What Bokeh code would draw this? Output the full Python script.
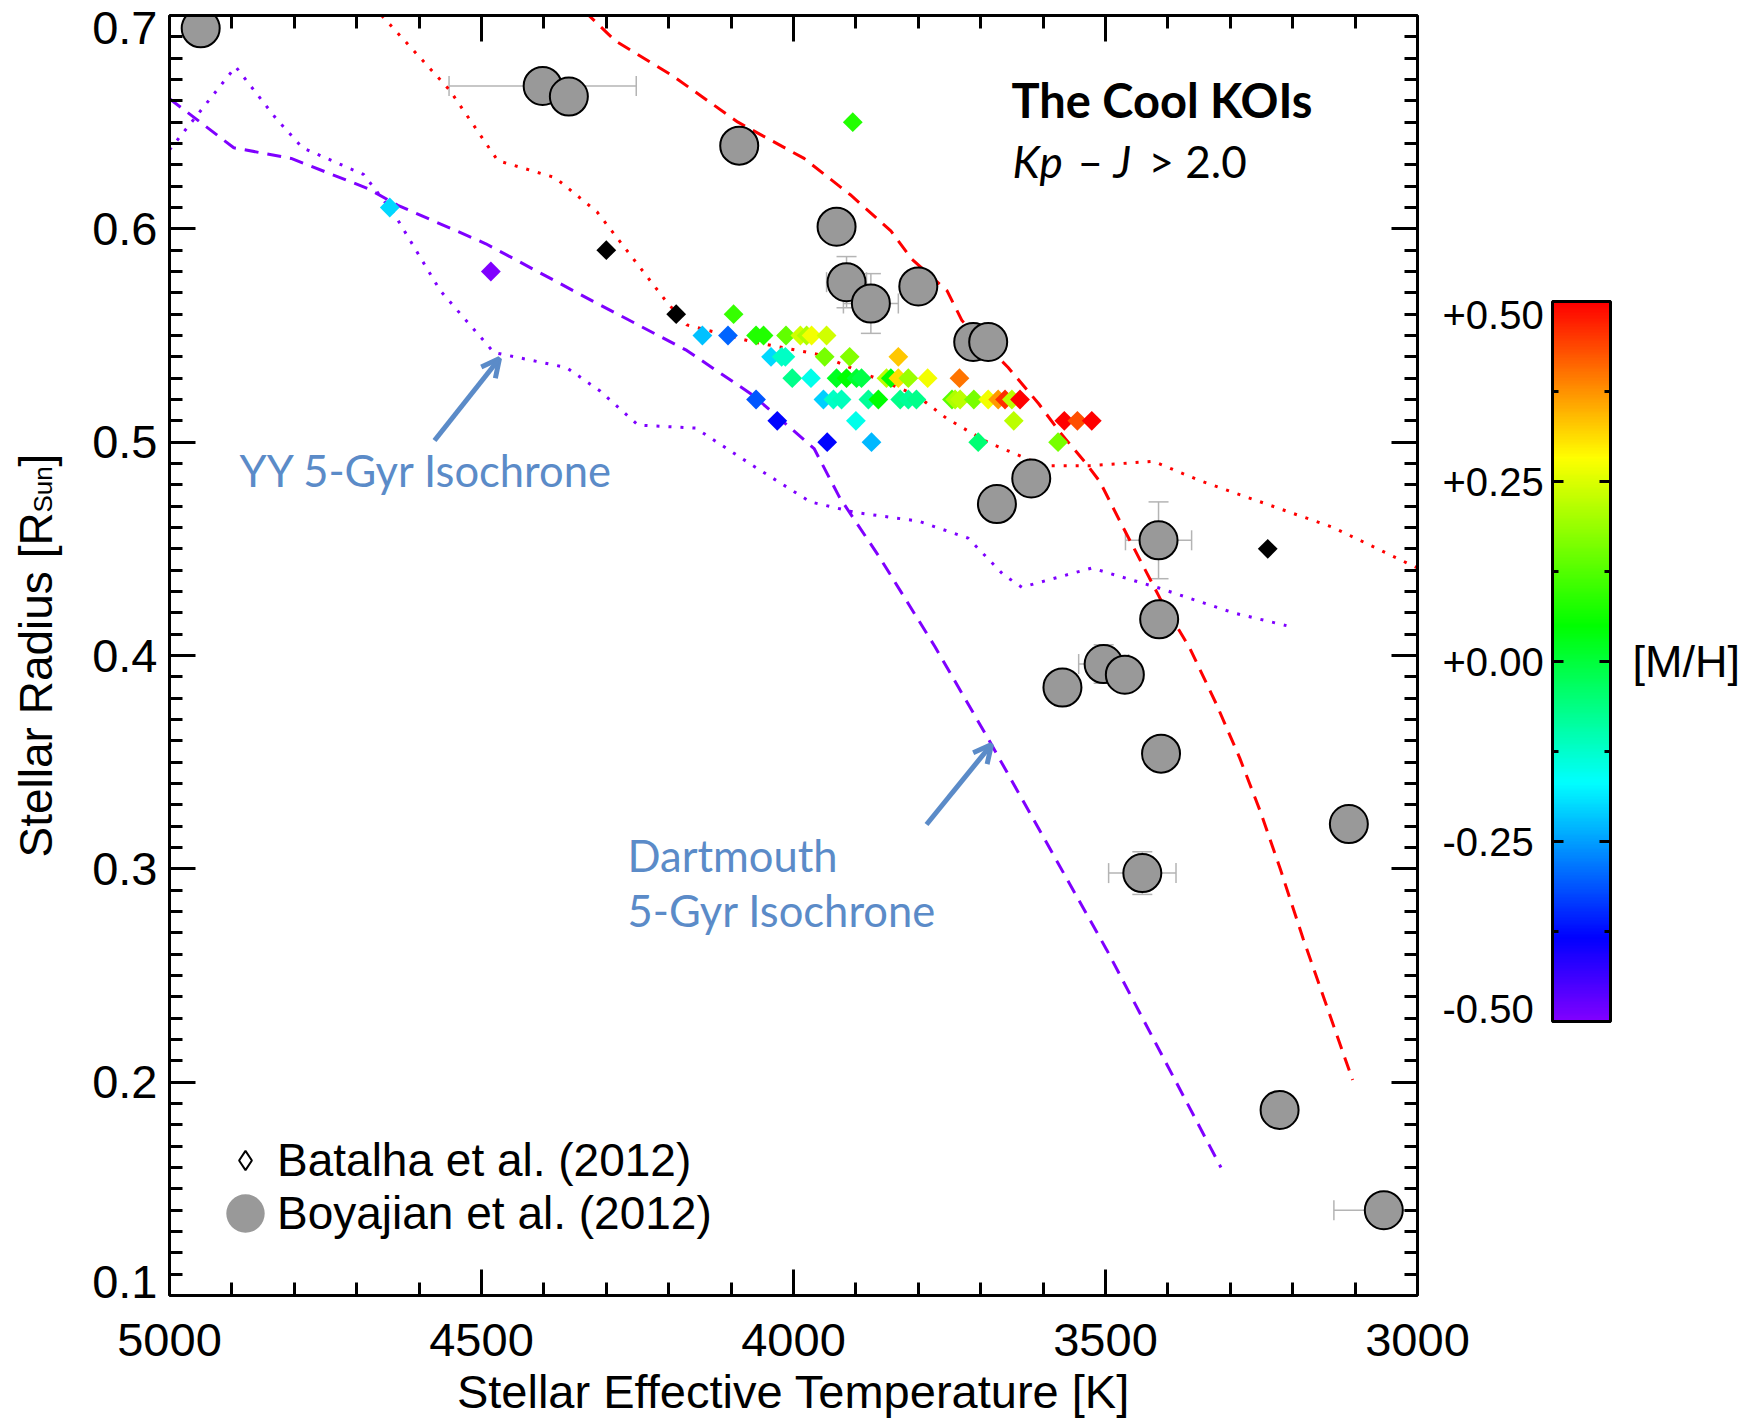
import numpy as np
from bokeh.plotting import figure
from bokeh.layouts import row
from bokeh.models import (Range1d, LinearColorMapper, LinearAxis, SingleIntervalTicker, FixedTicker,
                          CustomJSTickFormatter, Label, Arrow, OpenHead, Whisker, TeeHead,
                          ColumnDataSource, Legend, LegendItem)
from bokeh.embed import file_html
from bokeh.resources import INLINE

nan = float("nan")

# ---------------- data ----------------
# Batalha et al. (2012) cool KOIs: Teff [K], radius [Rsun], [M/H] (nan = no [M/H], drawn black)
bat_teff = [4188, 4096,
            4146, 4105, 4060, 4048, 4012, 3989, 3979, 3971, 3947,
            4036, 4019, 4013, 3950, 3910, 3832,
            4002, 3972, 3931, 3915, 3899, 3891, 3851, 3844, 3832, 3816, 3785, 3734,
            4060, 3952, 3936, 3923, 3880, 3864, 3829, 3816, 3803, 3746, 3741, 3733, 3711, 3688, 3672, 3661, 3650, 3637,
            4026, 3900, 3647, 3566, 3545, 3522,
            3946, 3875, 3704, 3576,
            3905, 4300, 4647, 4485, 3240]
bat_rad = [0.56, 0.56,
           0.55, 0.55, 0.55, 0.55, 0.55, 0.55, 0.55, 0.55, 0.55,
           0.54, 0.54, 0.54, 0.54, 0.54, 0.54,
           0.53, 0.53, 0.53, 0.53, 0.53, 0.53, 0.53, 0.53, 0.53, 0.53, 0.53, 0.53,
           0.52, 0.52, 0.52, 0.52, 0.52, 0.52, 0.52, 0.52, 0.52, 0.52, 0.52, 0.52, 0.52, 0.52, 0.52, 0.52, 0.52, 0.52,
           0.51, 0.51, 0.51, 0.51, 0.51, 0.51,
           0.50, 0.50, 0.50, 0.50,
           0.65, 0.59, 0.61, 0.58, 0.45]
bat_mh = [nan, 0.10,
          -0.22, -0.30, 0.08, 0.08, 0.14, 0.24, 0.21, 0.27, 0.24,
          -0.20, -0.12, -0.12, 0.16, 0.17, 0.33,
          -0.07, -0.15, 0.02, 0.05, 0.01, -0.01, 0.22, 0.05, 0.31, 0.19, 0.27, 0.40,
          -0.31, -0.21, -0.12, -0.11, -0.08, 0.05, -0.07, -0.08, -0.07, 0.13, 0.21, 0.22, 0.16, 0.27, 0.37, 0.46, 0.22, 0.50,
          -0.38, -0.15, 0.22, 0.50, 0.43, 0.50,
          -0.38, -0.23, -0.05, 0.16,
          0.08, nan, -0.20, -0.50, nan]

# Boyajian et al. (2012) interferometric stars
boy_teff = [4950, 4402, 4360, 4087, 3931, 3915, 3876, 3800, 3712, 3688, 3674,
            3619, 3415, 3414, 3569, 3503, 3469, 3411, 3110, 3441, 3221, 3054]
boy_rad = [0.694, 0.667, 0.662, 0.639, 0.601, 0.575, 0.565, 0.573, 0.547, 0.547, 0.471,
           0.483, 0.454, 0.417, 0.385, 0.396, 0.391, 0.354, 0.321, 0.298, 0.187, 0.140]
boy_teff_err = [0, 150, 0, 0, 0, 32, 44, 0, 0, 0, 0,
                0, 53, 0, 0, 40, 0, 0, 0, 54, 0, 80]
boy_rad_err = [0, 0, 0, 0, 0, 0.012, 0.014, 0, 0, 0, 0,
               0, 0.018, 0, 0, 0.009, 0, 0, 0, 0.010, 0, 0]

# Dartmouth 5-Gyr isochrone, [M/H] = +0.5 (red dashed)
dart_hi_teff = [4335, 4285, 4195, 4089, 3983, 3909, 3844, 3811, 3754, 3730, 3656, 3607,
                3574, 3531, 3509, 3477, 3413, 3365, 3322, 3285, 3252, 3220, 3183, 3104]
dart_hi_rad = [0.702, 0.688, 0.672, 0.650, 0.633, 0.616, 0.599, 0.586, 0.571, 0.557, 0.535, 0.518,
               0.505, 0.490, 0.4815, 0.463, 0.427, 0.4035, 0.377, 0.352, 0.327, 0.300, 0.267, 0.201]
# YY 5-Gyr isochrone, [M/H] = +0.5 (red dotted)
yy_hi_teff = [4660, 4551, 4474, 4382, 4315, 4204, 4171, 4065, 3958, 3885, 3803, 3754,
              3689, 3600, 3525, 3423, 3349, 3242, 3135, 3000]
yy_hi_rad = [0.700, 0.665, 0.632, 0.624, 0.608, 0.566, 0.555, 0.547, 0.541, 0.532, 0.522, 0.511,
             0.500, 0.489, 0.489, 0.491, 0.482, 0.471, 0.460, 0.441]
# Dartmouth 5-Gyr isochrone, [M/H] = -0.5 (purple dashed)
dart_lo_teff = [5000, 4897, 4805, 4683, 4634, 4493, 4321, 4171, 4065, 3967, 3926, 3862,
                3773, 3690, 3616, 3498, 3367, 3315]
dart_lo_rad = [0.661, 0.638, 0.633, 0.619, 0.611, 0.593, 0.566, 0.543, 0.522, 0.497, 0.474, 0.446,
               0.404, 0.362, 0.3235, 0.262, 0.189, 0.160]
# YY 5-Gyr isochrone, [M/H] = -0.5 (purple dotted)
yy_lo_teff = [5000, 4894, 4830, 4787, 4689, 4640, 4566, 4480, 4364, 4310, 4249, 4157,
              4065, 3973, 3900, 3800, 3720, 3664, 3634, 3522, 3413, 3295, 3210]
yy_lo_rad = [0.637, 0.676, 0.652, 0.638, 0.6255, 0.607, 0.571, 0.542, 0.535, 0.524, 0.508, 0.5066,
             0.489, 0.472, 0.467, 0.463, 0.455, 0.438, 0.432, 0.441, 0.4315, 0.420, 0.414]

# axis ticks
x_major, x_minor_n = 500, 5
y_ticks = [0.1, 0.2, 0.3, 0.4, 0.5, 0.6, 0.7]
y_minor_step = 0.01
cb_ticks = [-0.5, -0.25, 0.0, 0.25, 0.5]
cb_minor = [-0.375, -0.125, 0.125, 0.375]

# rainbow colour table stops ([M/H] -> rgb)
cmap_pos = [-0.5, -0.385, -0.169, 0.05, 0.284, 0.5]
cmap_r = [128, 0, 0, 0, 255, 255]
cmap_g = [0, 0, 255, 255, 255, 0]
cmap_b = [255, 255, 255, 0, 0, 0]
lev = np.linspace(-0.5, 0.5, 256)
palette = ["#%02x%02x%02x" % (int(round(np.interp(v, cmap_pos, cmap_r))),
                              int(round(np.interp(v, cmap_pos, cmap_g))),
                              int(round(np.interp(v, cmap_pos, cmap_b)))) for v in lev]
mapper = LinearColorMapper(palette=palette, low=-0.5, high=0.5, nan_color="black")

# ---------------- pixel layout ----------------
W, H = 1746, 1420
FL, FR, FT, FB = 169, 1417, 15, 1295       # main plot frame
X0W = 85                                   # width of the y-title strip
PR = 1550                                  # right end of main figure canvas
CB_L, CB_R, CB_T, CB_B = 1552, 1610, 301, 1021
XMAX, XMIN, YMIN, YMAX = 5000, 3000, 0.1, 0.7
TXT_DY = 18                                # baseline correction for Label text
MPP = 1.0 / (CB_B - CB_T)
M_TOP = 0.5 + (CB_T - FT) * MPP
M_BOT = -0.5 - (FB - CB_B) * MPP
RPP = (YMAX - YMIN) / (FB - FT)

y_minor = [round(YMIN + i * y_minor_step, 2) for i in range(int(round((YMAX - YMIN) / y_minor_step)) + 1)]
# end tick labels sit just inside the frame (as in the original figure)
y_label_pos = [y_ticks[0] + 14 * RPP] + y_ticks[1:-1] + [y_ticks[-1] - 12 * RPP]
cb_label_pos = [cb_ticks[0] + 13 * MPP] + cb_ticks[1:-1] + [cb_ticks[-1] - 13 * MPP]


def tx(sx):
    return XMAX - (sx - FL) * (XMAX - XMIN) / (FR - FL)


def ry(sy):
    return YMAX - (sy - TXT_DY - FT) * RPP


HELV = "Liberation Sans"
CAL = "Lato"
BLUE = "#5b8bc8"


def style_axis(ax, tin, mtin):
    ax.axis_line_width = 3
    ax.axis_line_color = "black"
    ax.major_tick_line_width = 3
    ax.minor_tick_line_width = 3
    ax.major_tick_line_color = "black"
    ax.minor_tick_line_color = "black"
    ax.major_tick_in = tin
    ax.major_tick_out = 0
    ax.minor_tick_in = mtin
    ax.minor_tick_out = 0


def label_axis(ax):
    ax.axis_line_color = None
    ax.major_tick_line_color = None
    ax.minor_tick_line_color = None
    ax.major_tick_in = 0
    ax.major_tick_out = 0
    ax.minor_tick_in = 0
    ax.minor_tick_out = 0


# ---------------- y-title strip ----------------
p0 = figure(width=X0W, height=H, x_range=Range1d(0, X0W), y_range=Range1d(FB, FT),
            x_axis_location=None, y_axis_location=None, output_backend="svg", toolbar_location=None,
            min_border_left=0, min_border_right=0, min_border_top=FT, min_border_bottom=H - FB,
            background_fill_color="white", border_fill_color="white")
p0.grid.visible = False
p0.outline_line_color = None
YL_BASE, YL_START = 53 - TXT_DY, 857
p0.add_layout(Label(x=YL_BASE, y=YL_START, text="Stellar Radius [R", angle=np.pi / 2,
                    text_align="left", text_baseline="alphabetic", text_font=HELV,
                    text_font_size="46px", text_color="black"))
p0.add_layout(Label(x=YL_BASE + 7, y=YL_START - 345, text="Sun", angle=np.pi / 2,
                    text_align="left", text_baseline="alphabetic", text_font=HELV,
                    text_font_size="26px", text_color="black"))
p0.add_layout(Label(x=YL_BASE, y=YL_START - 345 - 46, text="]", angle=np.pi / 2,
                    text_align="left", text_baseline="alphabetic", text_font=HELV,
                    text_font_size="46px", text_color="black"))

# ---------------- main plot ----------------
p = figure(width=PR - X0W, height=H, x_range=Range1d(XMAX, XMIN), y_range=Range1d(YMIN, YMAX),
           output_backend="svg", toolbar_location=None,
           min_border_left=FL - X0W, min_border_right=PR - FR, min_border_top=FT, min_border_bottom=H - FB,
           background_fill_color="white", border_fill_color="white")
p.grid.visible = False
p.outline_line_color = None
p.extra_y_ranges = {"mh": Range1d(M_BOT, M_TOP)}

xa = p.xaxis[0]
xa.ticker = SingleIntervalTicker(interval=x_major, num_minor_ticks=x_minor_n)
xa.formatter = CustomJSTickFormatter(code="return Math.round(tick).toString();")
style_axis(xa, 26, 13)
xa.major_label_text_font = HELV
xa.major_label_text_font_size = "47px"
xa.major_label_text_color = "black"
xa.major_label_standoff = 28
xa.axis_label = "Stellar Effective Temperature [K]"
xa.axis_label_text_font = HELV
xa.axis_label_text_font_size = "47px"
xa.axis_label_text_font_style = "normal"
xa.axis_label_text_color = "black"
xa.axis_label_standoff = 6

# left axis: tick marks
ya = p.yaxis[0]
ya.ticker = FixedTicker(ticks=y_ticks, minor_ticks=y_minor)
ya.formatter = CustomJSTickFormatter(code="return '';")
ya.major_label_text_font_size = "0px"
ya.major_label_standoff = 0
style_axis(ya, 26, 13)
# left axis: tick labels
ya_lab = LinearAxis(ticker=FixedTicker(ticks=y_label_pos, minor_ticks=[]),
                    formatter=CustomJSTickFormatter(code="return tick.toFixed(1);"),
                    major_label_text_font=HELV, major_label_text_font_size="47px",
                    major_label_text_color="black", major_label_standoff=12)
label_axis(ya_lab)
p.add_layout(ya_lab, "left")

top_ax = LinearAxis(ticker=SingleIntervalTicker(interval=x_major, num_minor_ticks=x_minor_n),
                    formatter=CustomJSTickFormatter(code="return '';"),
                    major_label_text_font_size="0px", major_label_standoff=0)
style_axis(top_ax, 26, 13)
p.add_layout(top_ax, "above")
right_ax = LinearAxis(ticker=FixedTicker(ticks=y_ticks, minor_ticks=y_minor),
                      formatter=CustomJSTickFormatter(code="return '';"),
                      major_label_text_font_size="0px", major_label_standoff=0)
style_axis(right_ax, 26, 13)
p.add_layout(right_ax, "right")

# colour-bar tick labels ([M/H] scale) as an extra right axis
cb_ax = LinearAxis(y_range_name="mh", ticker=FixedTicker(ticks=cb_label_pos, minor_ticks=[]),
                   formatter=CustomJSTickFormatter(
                       code="var v = Math.round(tick*4)/4; var s = v > -1e-9 ? '+' : '-'; "
                            "return s + Math.abs(v).toFixed(2);"),
                   major_label_text_font=HELV, major_label_text_font_size="40px",
                   major_label_text_color="black", major_label_standoff=25)
label_axis(cb_ax)
p.add_layout(cb_ax, "right")

# isochrones
p.line(dart_hi_teff, dart_hi_rad, line_color="#ff0000", line_width=3, line_dash="14 9")
p.line(yy_hi_teff, yy_hi_rad, line_color="#ff0000", line_width=3, line_dash="3 9")
p.line(dart_lo_teff, dart_lo_rad, line_color="#7f00ff", line_width=3, line_dash="14 9")
p.line(yy_lo_teff, yy_lo_rad, line_color="#7f00ff", line_width=3, line_dash="3 9")

# error bars
bt = np.array(boy_teff, float)
br = np.array(boy_rad, float)
bte = np.array(boy_teff_err, float)
bre = np.array(boy_rad_err, float)
mx = bte > 0
my = bre > 0
src_ex = ColumnDataSource(dict(r=br[mx], lo=bt[mx] - bte[mx], hi=bt[mx] + bte[mx]))
src_ey = ColumnDataSource(dict(t=bt[my], lo=br[my] - bre[my], hi=br[my] + bre[my]))
EC = "#b4b4b4"
p.add_layout(Whisker(source=src_ex, base="r", lower="lo", upper="hi", dimension="width",
                     line_color=EC, line_width=1.5,
                     lower_head=TeeHead(size=20, line_color=EC, line_width=1.5),
                     upper_head=TeeHead(size=20, line_color=EC, line_width=1.5)))
p.add_layout(Whisker(source=src_ey, base="t", lower="lo", upper="hi", dimension="height",
                     line_color=EC, line_width=1.5,
                     lower_head=TeeHead(size=20, line_color=EC, line_width=1.5),
                     upper_head=TeeHead(size=20, line_color=EC, line_width=1.5)))

# Boyajian circles
p.scatter(boy_teff, boy_rad, marker="circle", size=38, fill_color="#999999",
          line_color="black", line_width=2)

# Batalha diamonds coloured by [M/H]
src_b = ColumnDataSource(dict(t=bat_teff, r=bat_rad, m=np.array(bat_mh, dtype=float)))
p.scatter("t", "r", source=src_b, marker="square", angle=np.pi / 4, size=14,
          fill_color={"field": "m", "transform": mapper}, line_color=None)

# titles
p.add_layout(Label(x=tx(1011), y=ry(117), text="The Cool KOIs", text_font=CAL, text_font_size="47px",
                   text_font_style="bold", text_color="black", text_baseline="alphabetic"))
for txt, sx, style in (("Kp", 1012, "italic"), ("\u2013", 1077, "normal"),
                       ("J", 1113, "italic"), ("> 2.0", 1148, "normal")):
    p.add_layout(Label(x=tx(sx), y=ry(178), text=txt, text_font=CAL, text_font_size="44px",
                       text_font_style=style, text_color="black", text_baseline="alphabetic"))

# isochrone annotations
p.add_layout(Label(x=tx(239), y=ry(487), text="YY 5-Gyr Isochrone", text_font=CAL,
                   text_font_size="43.5px", text_color=BLUE, text_baseline="alphabetic"))
p.add_layout(Label(x=tx(627), y=ry(872), text="Dartmouth", text_font=CAL,
                   text_font_size="43.5px", text_color=BLUE, text_baseline="alphabetic"))
p.add_layout(Label(x=tx(627), y=ry(927), text="5-Gyr Isochrone", text_font=CAL,
                   text_font_size="43.5px", text_color=BLUE, text_baseline="alphabetic"))
p.add_layout(Arrow(x_start=tx(434), y_start=ry(440 + TXT_DY), x_end=tx(499), y_end=ry(358 + TXT_DY),
                   line_color=BLUE, line_width=5,
                   end=OpenHead(size=18, line_color=BLUE, line_width=5)))
p.add_layout(Arrow(x_start=tx(926), y_start=ry(824 + TXT_DY), x_end=tx(991), y_end=ry(744 + TXT_DY),
                   line_color=BLUE, line_width=5,
                   end=OpenHead(size=18, line_color=BLUE, line_width=5)))

# legend (key glyphs only; no data)
leg_d = p.scatter(x=np.array([np.nan]), y=np.array([np.nan]), marker="diamond", size=20,
                  fill_color="white", line_color="black", line_width=2)
leg_c = p.ellipse(x=np.array([np.nan]), y=np.array([np.nan]), width=38, height=38,
                  width_units="screen", height_units="screen", fill_color="#999999", line_color=None)
common = dict(label_text_font=HELV, label_text_font_size="46px", label_text_color="black",
              background_fill_alpha=0, border_line_alpha=0, padding=0, margin=0, spacing=0,
              glyph_width=48, glyph_height=48, label_standoff=8)
legA = Legend(items=[LegendItem(label="Batalha et al. (2012)", renderers=[leg_d])],
              location=(245 - 24 - FL, FB - 1187), **common)
legB = Legend(items=[LegendItem(label="Boyajian et al. (2012)", renderers=[leg_c])],
              location=(245 - 24 - FL, FB - 1240), **common)
p.add_layout(legA)
p.add_layout(legB)

# ---------------- colour-bar strip ----------------
w2 = W - PR
p2 = figure(width=w2, height=H, x_range=Range1d(0, w2), y_range=Range1d(M_BOT, M_TOP),
            x_axis_location=None, y_axis_location=None, output_backend="svg", toolbar_location=None,
            min_border_left=0, min_border_right=0, min_border_top=FT, min_border_bottom=H - FB,
            background_fill_color="white", border_fill_color="white")
p2.grid.visible = False
p2.outline_line_color = None
bx0, bx1 = CB_L - PR, CB_R - PR
p2.image(image=[lev.reshape(256, 1)], x=bx0, y=-0.5, dw=bx1 - bx0, dh=1.0, color_mapper=mapper)
p2.quad(left=bx0, right=bx1, bottom=-0.5, top=0.5, fill_color=None, line_color="black", line_width=3)
p2.segment(x0=bx0, x1=bx0 + 11, y0=cb_ticks, y1=cb_ticks, line_color="black", line_width=3)
p2.segment(x0=bx1 - 11, x1=bx1, y0=cb_ticks, y1=cb_ticks, line_color="black", line_width=3)
p2.segment(x0=bx0, x1=bx0 + 6, y0=cb_minor, y1=cb_minor, line_color="black", line_width=3)
p2.segment(x0=bx1 - 6, x1=bx1, y0=cb_minor, y1=cb_minor, line_color="black", line_width=3)
p2.add_layout(Label(x=1632 - PR, y=0.0, text="[M/H]", text_font=HELV, text_font_size="45px",
                    text_color="black", text_align="left", text_baseline="middle"))

layout = row(p0, p, p2)
open("out.html", "w").write(file_html(layout, INLINE, title="Cool KOIs"))
